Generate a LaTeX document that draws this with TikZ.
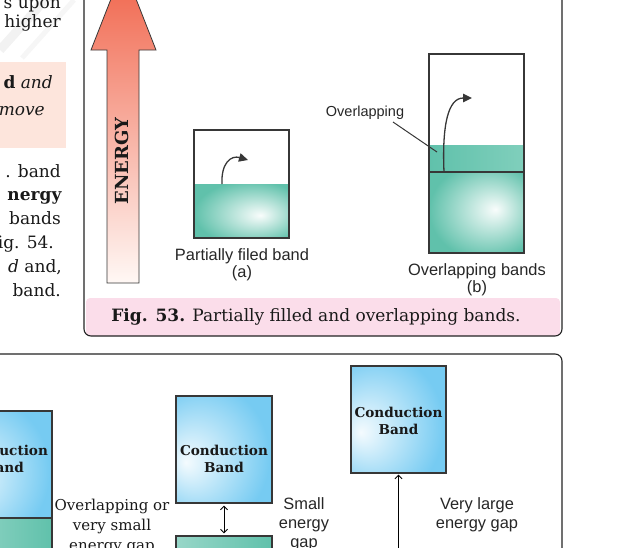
\documentclass[tikz,border=0pt]{standalone}
\usepackage{fontspec}
\setmainfont{DejaVu Serif}
\newfontfamily\sansf{Liberation Sans}
\usetikzlibrary{arrows.meta}
\definecolor{framec}{RGB}{35,35,35}
\definecolor{linec}{RGB}{55,55,55}
\definecolor{capfill}{RGB}{251,221,234}
\definecolor{leftpink}{RGB}{253,229,220}
\definecolor{enTop}{RGB}{240,98,72}
\definecolor{enBot}{RGB}{255,248,245}
\definecolor{tealD}{RGB}{96,193,171}
\definecolor{tealM}{RGB}{128,207,188}
\definecolor{blueD}{RGB}{118,203,242}
\pgfdeclareradialshading{tealA}{\pgfpoint{10bp}{-4bp}}{color(0bp)=(white!96!tealD); color(30bp)=(tealD); color(60bp)=(tealD)}
\pgfdeclareradialshading{tealB}{\pgfpoint{10bp}{2bp}}{color(0bp)=(white!96!tealD); color(30bp)=(tealD); color(60bp)=(tealD)}
\pgfdeclareradialshading{blueS}{\pgfpoint{-20bp}{-6bp}}{color(0bp)=(white!92!blueD); color(34bp)=(blueD); color(70bp)=(blueD)}
\begin{document}
\begin{tikzpicture}[x=1pt,y=-1pt,
  lt/.style={anchor=base east, inner sep=0pt, font=\fontsize{17}{19}\selectfont, text=black!90},
  frame/.style={draw=framec, line width=1.1pt},
  bandbox/.style={draw=linec, line width=1.1pt, inner sep=0pt},
  cbox/.style={draw=linec, line width=1.1pt, inner sep=0pt, shading=blueS},
  vbox/.style={draw=linec, line width=1.1pt, inner sep=0pt, left color=tealD!65!white, right color=tealD},
  cbt/.style={anchor=base, inner sep=0pt, font=\fontsize{13.6}{15}\selectfont\bfseries, text=black!90},
  slab/.style={anchor=base, inner sep=0pt, font=\sansf\fontsize{16.4}{18}\selectfont, text=black!85},
  serlab/.style={anchor=base, inner sep=0pt, font=\fontsize{15}{18}\selectfont, text=black!90},
  curv/.style={draw=linec, line width=1.3pt, -{Triangle[length=9pt,width=8.5pt]}},
  dbl/.style={draw=black, line width=1pt, {Straight Barb[length=3.5pt,width=7pt]}-{Straight Barb[length=3.5pt,width=7pt]}, shorten <=2pt, shorten >=2pt},
  uparr/.style={draw=black, line width=1pt, -{Straight Barb[length=3.5pt,width=7pt]}, shorten >=1pt}
]
\useasboundingbox (0,0) rectangle (638,547);
% watermark stripes
\draw[gray!10, line width=9pt] (0,50) -- (52,-8);
\draw[gray!7, line width=5pt] (22,58) -- (74,0);
% left column
\fill[leftpink] (-5,62) rectangle (66,148);
\node[lt] (l1) at (61,8.5) {s upon};
\node[lt] (l2) at (61,27) {higher};
\node[lt] (l3) at (53,88) {\textbf{d} \textit{and}};
\node[lt] (l4) at (45,115) {\textit{move}};
\node[lt] (l5) at (61,177) {. band};
\node[lt] (l6) at (62,200) {\textbf{nergy}};
\node[lt] (l7) at (61,224) {bands};
\node[lt] (l8) at (54,248) {ig. 54.};
\node[lt] (l9) at (62,272) {\textit{d} and,};
\node[lt] (l10) at (61,296) {band.};
% top figure frame + caption band
\begin{scope}
  \clip[rounded corners=7pt] (84,-20) rectangle (562,336);
  \fill[capfill, rounded corners=4pt] (86,298) rectangle (560,350);
\end{scope}
\draw[frame, rounded corners=7pt] (84,-20) rectangle (562,336);
\node[anchor=base, inner sep=0pt, font=\fontsize{17}{19}\selectfont, text=black!90] (cap) at (316,321) {\textbf{Fig. 53.} Partially filled and overlapping bands.};
% energy arrow
\shade[top color=enTop, bottom color=enBot, draw=linec, line width=0.8pt]
  (107,283) -- (107,50) -- (91,50) -- (123.5,-33) -- (156,50) -- (139,50) -- (139,283) -- cycle;
\node[rotate=90, inner sep=0pt, font=\fontsize{18}{20}\selectfont\bfseries, text=black!90] (en) at (121.5,161) {ENERGY};
% (a) partially filled band
\shade[shading=tealA] (194,184) rectangle (289,238);
\node[bandbox, minimum width=95pt, minimum height=108pt] (pa) at (241.5,184) {};
\coordinate (a0) at (222,184);
\coordinate (a1) at (248,160);
\draw[curv] (a0) .. controls (221,163) and (231,155) .. (a1);
\node[slab] (la1) at (242,260) {Partially filed band};
\node[slab] (la2) at (242,277) {(a)};
% (b) overlapping bands
\shade[shading=tealB] (429,172) rectangle (524,253);
\shade[left color=tealD, right color=tealM] (429,145) rectangle (524,172);
\node[bandbox, minimum width=95pt, minimum height=199pt] (pb) at (476.5,153.5) {};
\draw[draw=linec, line width=1.1pt] (pb.west |- 0,172) -- (pb.east |- 0,172);
\coordinate (b0) at (444,172);
\coordinate (b1) at (472,98);
\draw[curv] (b0) .. controls (442,125) and (448,98) .. (b1);
\node[anchor=base, inner sep=0pt, font=\sansf\fontsize{14.5}{16}\selectfont, text=black!85] (ovl) at (365,116) {Overlapping};
\coordinate (ov0) at (393,122);
\coordinate (ov1) at (437,152);
\draw[draw=linec, line width=1pt] (ov0) -- (ov1);
\node[slab] (lb1) at (477,275) {Overlapping bands};
\node[slab] (lb2) at (477,292) {(b)};
% bottom figure frame
\draw[frame, rounded corners=7pt] (-20,354) rectangle (562,620);
% left conductor
\node[vbox, minimum width=96pt, minimum height=82pt] (vb1) at (4,559) {};
\node[cbox, minimum width=96pt, minimum height=107pt] (cb1) at (4,464.5) {};
\node[cbt] (cb1a) at (4,455) {Conduction};
\node[cbt] (cb1b) at (4,472) {Band};
\node[serlab] (o1) at (112,510) {Overlapping or};
\node[serlab] (o2) at (112,530) {very small};
\node[serlab] (o3) at (112,550) {energy gap};
% middle semiconductor
\node[cbox, minimum width=96pt, minimum height=107pt] (cb2) at (224,449.5) {};
\node[cbt] (cb2a) at (224,455) {Conduction};
\node[cbt] (cb2b) at (224,472) {Band};
\node[vbox, minimum width=96pt, minimum height=64pt] (vb2) at (224,568) {};
\draw[dbl] (cb2.south) -- (vb2.north);
\node[slab] (s1) at (304,509) {Small};
\node[slab] (s2) at (304,528) {energy};
\node[slab] (s3) at (304,547) {gap};
% right insulator
\node[cbox, minimum width=95pt, minimum height=107pt] (cb3) at (398.5,419.5) {};
\node[cbt] (cb3a) at (398.5,417) {Conduction};
\node[cbt] (cb3b) at (398.5,434) {Band};
\coordinate (vb3top) at (398.5,560);
\draw[uparr] (vb3top) -- (cb3.south);
\node[slab] (v1) at (477,509) {Very large};
\node[slab] (v2) at (477,528) {energy gap};
\end{tikzpicture}
\end{document}
